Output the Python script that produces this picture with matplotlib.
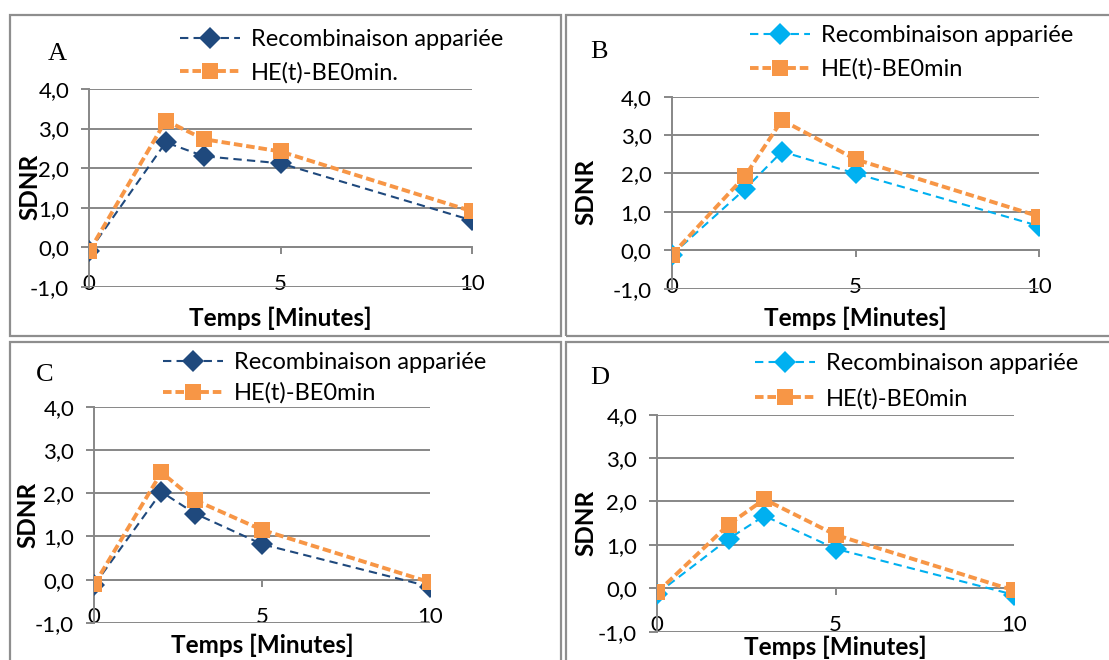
import matplotlib
matplotlib.use('Agg')
import matplotlib.pyplot as plt
from matplotlib.ticker import FuncFormatter
from matplotlib.patches import Rectangle

# Config
FIG_W, FIG_H = 1109, 660   # output size in pixels (dpi 100)
DPI = 100
SANS = ['Lato', 'DejaVu Sans']
SERIF = ['Liberation Serif', 'DejaVu Serif']

DARK_BLUE  = '#1F497D'
LIGHT_BLUE = '#00B0F0'
ORANGE     = '#F79646'
GRID_GRAY  = '#878787'
FRAME_GRAY = '#8E8E8E'

# Data
times = [0, 2, 3, 5, 10]
y_ticks = [-1, 0, 1, 2, 3, 4]
x_ticks = [0, 5, 10]

recomb_a = [-0.10, 2.65, 2.30, 2.12, 0.68]
he_a     = [-0.10, 3.20, 2.73, 2.42, 0.91]
recomb_b = [-0.12, 1.60, 2.57, 2.00, 0.63]
he_b     = [-0.12, 1.94, 3.39, 2.37, 0.88]
recomb_c = [-0.12, 2.03, 1.53, 0.82, -0.16]
he_c     = [-0.11, 2.48, 1.84, 1.15, -0.06]
recomb_d = [-0.12, 1.14, 1.67, 0.91, -0.15]
he_d     = [-0.09, 1.47, 2.05, 1.23, -0.05]

letters = ['A', 'B', 'C', 'D']
recomb_label = 'Recombinaison appariée'
he_labels = ['HE(t)-BE0min.', 'HE(t)-BE0min', 'HE(t)-BE0min', 'HE(t)-BE0min']
x_label = 'Temps [Minutes]'
y_label = 'SDNR'

# Layout, all in pixels from the top-left corner
# axes box: left (x=0), right (x=10), top (y=4), bottom (y=-1)
AX_BOX = [(89.3, 471.7, 89.0, 286.7),
          (671.7, 1039.3, 96.7, 288.7),
          (94.3, 430.0, 406.7, 623.0),
          (657.3, 1014.0, 414.7, 631.7)]
FRAMES = [(10, 15, 561, 336), (566, 15, 1113, 336),
          (10, 342, 561, 663), (566, 342, 1113, 663)]
LEGEND_XY = [(180, 29), (750, 25), (163, 352), (755, 353)]   # top-left of legend
LEGEND_GAP = [0.50, 0.53, 0.40, 0.60]                         # row spacing differs a bit per panel
LETTER_XY = [(57, 54), (599, 52), (45, 375), (600, 378)]
YLABEL_XY = [(30, 187), (586, 192), (28, 515), (586, 523)]
XLABEL_Y  = [318, 318, 645, 647]


def fx(px):
    return px / FIG_W


def fy(py):
    return 1 - py / FIG_H


def comma_fmt(v, pos):
    return f'{v:.1f}'.replace('.', ',')


def draw_panel(fig, i, recomb, he, recomb_color):
    left, right, top, bottom = AX_BOX[i]
    ax = fig.add_axes([fx(left), fy(bottom), (right - left) / FIG_W, (bottom - top) / FIG_H])
    ax.set_xlim(0, 10)
    ax.set_ylim(-1, 4)

    # gridlines + axis lines in excel gray
    ax.set_yticks(y_ticks)
    ax.yaxis.set_major_formatter(FuncFormatter(comma_fmt))
    ax.grid(axis='y', color=GRID_GRAY, linewidth=1.4, zorder=0)
    ax.set_axisbelow(True)
    for s in ['top', 'right']:
        ax.spines[s].set_visible(False)
    ax.spines['left'].set_color(GRID_GRAY)
    ax.spines['left'].set_linewidth(1.4)
    ax.spines['bottom'].set_position(('data', 0))
    ax.spines['bottom'].set_color(GRID_GRAY)
    ax.spines['bottom'].set_linewidth(1.4)

    ax.set_xticks(x_ticks)
    ax.tick_params(axis='y', length=5.5, width=1.4, color=GRID_GRAY, pad=9,
                   labelsize=16, labelcolor='black')
    ax.tick_params(axis='x', length=5, width=1.4, color=GRID_GRAY, pad=21.5,
                   labelsize=16, labelcolor='black')
    for lbl in ax.get_xticklabels():
        lbl.set_va('center')

    ax.plot(times, recomb, color=recomb_color, linewidth=1.5, dashes=(4.0, 2.5),
            marker='D', markersize=11, markeredgewidth=0, label=recomb_label, zorder=3)
    ax.plot(times, he, color=ORANGE, linewidth=2.8, dashes=(2.2, 1.0),
            marker='s', markersize=11.5, markeredgewidth=0, label=he_labels[i], zorder=4)

    lx, ly = LEGEND_XY[i]
    ax.legend(loc='upper left', bbox_to_anchor=(fx(lx), fy(ly)), bbox_transform=fig.transFigure,
              frameon=False, borderpad=0, borderaxespad=0, handlelength=2.55,
              handletextpad=0.45, labelspacing=LEGEND_GAP[i], fontsize=17)

    ax.set_xlabel(x_label, fontsize=17.5, fontweight='bold')
    ax.xaxis.set_label_coords(fx((left + right) / 2), fy(XLABEL_Y[i]), transform=fig.transFigure)
    ax.xaxis.label.set_va('center')
    # SDNR sits over the tick labels in the original, kept that way
    ax.set_ylabel(y_label, fontsize=17.5, fontweight='bold')
    yx, yy = YLABEL_XY[i]
    ax.yaxis.set_label_coords(fx(yx), fy(yy), transform=fig.transFigure)
    ax.yaxis.label.set_va('center')
    ax.yaxis.label.set_ha('center')
    ax.yaxis.label.set_zorder(5)

    tx, ty = LETTER_XY[i]
    fig.text(fx(tx), fy(ty), letters[i], family=SERIF, fontsize=19, ha='center', va='center')

    x0, y0, x1, y1 = FRAMES[i]
    fig.patches.append(Rectangle((fx(x0), fy(y1)), fx(x1) - fx(x0), fy(y0) - fy(y1),
                                 transform=fig.transFigure, fill=False,
                                 edgecolor=FRAME_GRAY, linewidth=1.6))
    return ax


plt.rcParams['font.family'] = SANS

fig = plt.figure(figsize=(FIG_W / DPI, FIG_H / DPI), dpi=DPI)
fig.patch.set_facecolor('white')

draw_panel(fig, 0, recomb_a, he_a, DARK_BLUE)
draw_panel(fig, 1, recomb_b, he_b, LIGHT_BLUE)
draw_panel(fig, 2, recomb_c, he_c, DARK_BLUE)
draw_panel(fig, 3, recomb_d, he_d, LIGHT_BLUE)

fig.savefig('out.png', dpi=DPI)
